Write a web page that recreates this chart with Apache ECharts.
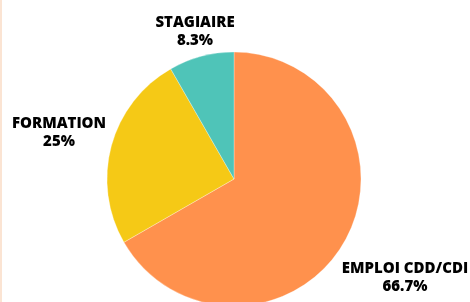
<!DOCTYPE html>
<html>
<head>
<meta charset="utf-8">
<script src="https://cdn.jsdelivr.net/npm/echarts@6/dist/echarts.min.js"></script>
<style>
  html, body { margin: 0; padding: 0; background: #fff; }
  #chart { width: 470px; height: 302px; box-sizing: border-box; border-left: 2px solid #fbe4d3; }
</style>
</head>
<body>
<div id="chart"></div>
<script>
// categories and shares (%)
var categories = ['EMPLOI CDD/CDI', 'FORMATION', 'STAGIAIRE']
var values = [66.7, 25, 8.3]
var colors = ['#ff914d', '#f5c916', '#4fc4b8']

// where each label sits (text centre, px)
var labelSpots = [[403, 278], [57, 133], [193, 31.5]]

var chart = echarts.init(document.getElementById('chart'))

chart.setOption({
  animation: false,
  series: [{
    type: 'pie',
    center: [232, 179],
    radius: [0, 127],
    startAngle: 90,
    clockwise: true,
    data: categories.map(function(name, i) {
      return { name: name, value: values[i], itemStyle: { color: colors[i] } }
    }),
    itemStyle: { borderColor: '#fff', borderWidth: 0.3 },
    label: {
      show: true,
      position: 'outside',
      overflow: 'none',
      formatter: function(p) { return p.name + '\n' + p.value + '%' },
      fontFamily: 'Open Sans',
      fontWeight: 800,
      fontSize: 15,
      lineHeight: 18,
      color: '#000',
      align: 'center'
    },
    labelLine: { show: false },
    labelLayout: function(params) {
      var s = labelSpots[params.dataIndex]
      return {
        x: s[0],
        y: s[1],
        align: 'center',
        verticalAlign: 'middle'
      }
    }
  }]
})
</script>
</body>
</html>
